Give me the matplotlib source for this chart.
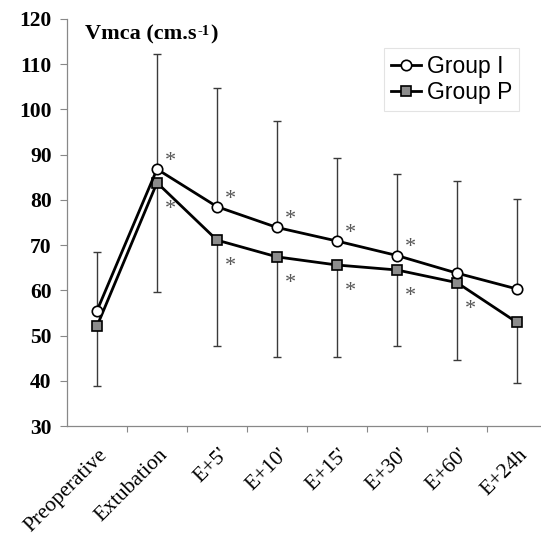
import matplotlib
matplotlib.use("Agg")
import matplotlib.pyplot as plt
import matplotlib.transforms as mtransforms
import numpy as np

categories = ["Preoperative", "Extubation", "E+5'", "E+10'", "E+15'", "E+30'", "E+60'", "E+24h"]
group_i = [55.5, 86.8, 78.5, 73.9, 70.9, 67.7, 63.8, 60.3]
group_i_sd = [13.0, 25.4, 26.3, 23.6, 18.3, 18.0, 20.4, 19.9]
group_p = [52.1, 83.8, 71.1, 67.4, 65.6, 64.5, 61.7, 52.9]
group_p_sd = [13.3, 24.1, 23.3, 22.1, 20.4, 16.8, 17.0, 13.3]
sig_i = [False, True, True, True, True, True, False, False]
sig_p = [False, True, True, True, True, True, True, False]
y_ticks = [30, 40, 50, 60, 70, 80, 90, 100, 110, 120]

W, H = 541, 539
fig = plt.figure(figsize=(W / 100, H / 100), dpi=100)
ax = fig.add_axes([67 / W, 1 - 426 / H, (540 - 67) / W, (426 - 19) / H])

x = np.arange(len(categories))
ecol = "#3a3a3a"
# error bars: Group I upward, Group P downward
ax.errorbar(x, group_i, yerr=[np.zeros(len(x)), group_i_sd], fmt="none",
            ecolor=ecol, elinewidth=1.0, capsize=2.8, capthick=1.0, zorder=1)
ax.errorbar(x, group_p, yerr=[group_p_sd, np.zeros(len(x))], fmt="none",
            ecolor=ecol, elinewidth=1.0, capsize=2.8, capthick=1.0, zorder=1)

ax.plot(x, group_p, color="black", lw=2.0, marker="s", ms=7, mfc="#8c8c8c",
        mec="black", mew=1.2, zorder=3, label="Group P")
ax.plot(x, group_i, color="black", lw=2.0, marker="o", ms=7.5, mfc="white",
        mec="black", mew=1.2, zorder=4, label="Group I")

for xi, yi, s in zip(x, group_i, sig_i):
    if s:
        ax.annotate("*", (xi, yi), xytext=(9.5, 5.5), textcoords="offset points",
                    ha="center", va="center", fontsize=16, color="#555555",
                    family="Liberation Serif")
for xi, yi, s in zip(x, group_p, sig_p):
    if s:
        ax.annotate("*", (xi, yi), xytext=(9.5, -19), textcoords="offset points",
                    ha="center", va="center", fontsize=16, color="#555555",
                    family="Liberation Serif")

ax.set_xlim(-0.5, -0.5 + (540 - 67) / 60)
ax.set_ylim(30, 120)
ax.set_yticks(y_ticks)
ax.set_yticklabels([str(v) for v in y_ticks], family="Liberation Serif",
                   fontweight="bold", fontsize=15.5)

# category labels (rotated), drawn at the category positions
ax.set_xticks(x)
ax.set_xticklabels([])
ax.tick_params(axis="x", which="major", length=0)
lab_tr = ax.get_xaxis_transform() + mtransforms.ScaledTranslation(
    8 / 100, -26 / 100, fig.dpi_scale_trans)
for xi, name in zip(x, categories):
    ax.text(xi, 0, name, transform=lab_tr, family="Liberation Serif",
            fontsize=15.5, rotation=45, ha="right", va="center",
            rotation_mode="anchor", clip_on=False)

ax.set_xticks(np.arange(0.5, len(categories) - 0.5, 1.0), minor=True)
ax.tick_params(axis="x", which="minor", length=4, color="#888888", width=0.8)
ax.tick_params(axis="y", length=5, color="#888888", width=0.8, pad=6)

for side in ["top", "right"]:
    ax.spines[side].set_visible(False)
for side in ["left", "bottom"]:
    ax.spines[side].set_color("#888888")
    ax.spines[side].set_linewidth(0.9)

# title: Vmca (cm.s-1) with superscript
tfont = dict(family="Liberation Serif", fontweight="bold", color="black")
t1 = fig.text(85 / W, 1 - 44 / H, "Vmca (cm.s", fontsize=16, ha="left",
              va="bottom", **tfont)
t2 = ax.annotate("-1", xy=(1.0, 0.97), xycoords=t1, xytext=(0.5, 0),
                 textcoords="offset points", ha="left", va="top",
                 fontsize=10.5, annotation_clip=False, **tfont)
t3 = ax.annotate(")", xy=(1.0, 0.0), xycoords=(t2, t1), xytext=(0.5, 0),
                 textcoords="offset points", ha="left", va="bottom",
                 fontsize=16, annotation_clip=False, **tfont)

handles, labels = ax.get_legend_handles_labels()
leg = fig.legend(handles[::-1], labels[::-1], loc="upper right",
                 bbox_to_anchor=(519 / W, 1 - 48 / H), borderaxespad=0,
                 prop={"family": "Liberation Sans", "size": 16.5},
                 frameon=True, fancybox=False, handlelength=1.3,
                 handletextpad=0.25, borderpad=0.3, labelspacing=0.12)
leg.get_frame().set_edgecolor("#dddddd")
leg.get_frame().set_linewidth(0.8)

fig.savefig("out.png", dpi=100)
